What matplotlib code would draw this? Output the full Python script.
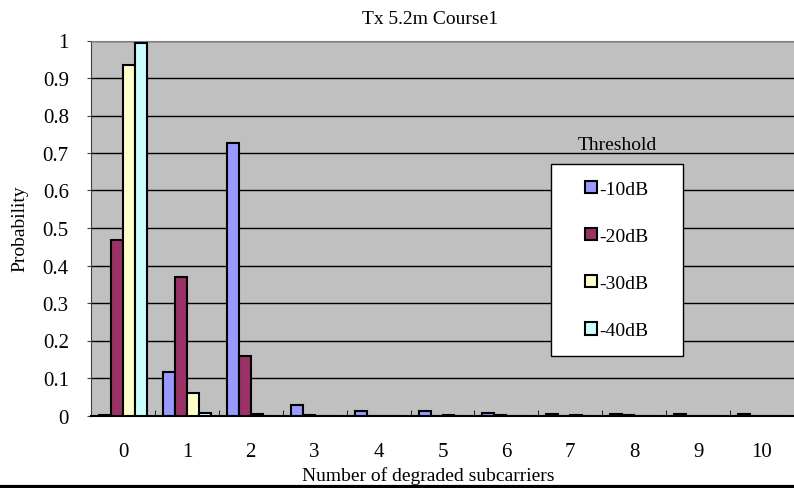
import matplotlib.pyplot as plt
import matplotlib.lines as mlines
import matplotlib.patches as mpatches
import numpy as np

plt.rcParams['font.family'] = ['Liberation Serif', 'DejaVu Serif']

categories = list(range(11))
thresholds = ['-10dB', '-20dB', '-30dB', '-40dB']
p10 = [0.002, 0.116, 0.727, 0.027, 0.012, 0.012, 0.007, 0.004, 0.005, 0.004, 0.004]
p20 = [0.467, 0.369, 0.160, 0.002, 0.0, 0.0, 0.002, 0.0, 0.002, 0.0, 0.0]
p30 = [0.935, 0.060, 0.003, 0.0, 0.0, 0.002, 0.0, 0.002, 0.0, 0.0, 0.0]
p40 = [0.994, 0.007, 0.0, 0.0, 0.0, 0.0, 0.0, 0.0, 0.0, 0.0, 0.0]
colors = ['#9999FF', '#993366', '#FFFFCC', '#CCFFFF']

W, H = 794, 489
fig = plt.figure(figsize=(W / 100, H / 100), dpi=100)
ax = fig.add_axes([91 / W, 1 - 416.5 / H, (W - 91) / W, 375 / H])
ax.set_facecolor('#C0C0C0')

x = np.arange(len(categories))
w = 0.1875
for i, (vals, c, lab) in enumerate(zip([p10, p20, p30, p40], colors, thresholds)):
    ax.bar(x + (i - 1.5) * w, vals, w, color=c, edgecolor='black', linewidth=1.5,
           label=lab, zorder=3)

ax.set_xlim(-0.5, len(categories) - 0.5)
ax.set_ylim(0, 1)
ax.set_yticks(np.arange(0, 1.01, 0.1))
ax.set_yticklabels(['0', '0.1', '0.2', '0.3', '0.4', '0.5', '0.6', '0.7', '0.8', '0.9', '1'])
ax.yaxis.grid(True, color='black', linewidth=1)
ax.set_axisbelow(True)
ax.set_xticks(x)
ax.set_xticklabels([str(c) for c in categories])
ax.set_xticks(np.arange(0.5, len(categories) - 0.5, 1), minor=True)
ax.tick_params(axis='x', which='major', length=0, pad=19, labelsize=15)
ax.tick_params(axis='x', which='minor', length=4, direction='in', color='black')
ax.tick_params(axis='y', length=3, labelsize=15, color='#404040', pad=13)
ax.spines['top'].set_color('#808080')
ax.spines['left'].set_color('#404040')
ax.spines['right'].set_visible(False)
ax.spines['bottom'].set_color('black')
ax.spines['bottom'].set_linewidth(1.5)

fig.text(430 / W, 1 - 20 / H, 'Tx 5.2m Course1', ha='center', va='center', fontsize=14)
fig.text(428 / W, 1 - 476 / H, 'Number of degraded subcarriers', ha='center', va='center',
         fontsize=14)
fig.text(20 / W, 1 - 229 / H, 'Probability', ha='center', va='center', rotation=90,
         fontsize=14)


def ax_xy(px, py):
    return (px - 91) / (W - 91), (416.5 - py) / 375


# legend frame and title
x0, y0 = ax_xy(551, 357)
x1, y1 = ax_xy(683, 165)
ax.add_patch(mpatches.Rectangle((x0, y0), x1 - x0, y1 - y0, transform=ax.transAxes,
                                facecolor='white', edgecolor='black', linewidth=1, zorder=5))
tx, ty = ax_xy(617, 146)
ax.text(tx, ty, 'Threshold', transform=ax.transAxes, ha='center', va='center',
        fontsize=14, zorder=6)
cx, cy = ax_xy(617, 261)
leg = ax.legend(loc='center', bbox_to_anchor=(cx, cy), frameon=False,
                handlelength=0.6, handleheight=0.6, handletextpad=0.15,
                labelspacing=1.55, borderpad=0, fontsize=14)
leg.set_zorder(7)

fig.add_artist(mlines.Line2D([0, 1], [1 - 487.5 / H] * 2, color='black', linewidth=3))

fig.savefig('out.png', dpi=100)
